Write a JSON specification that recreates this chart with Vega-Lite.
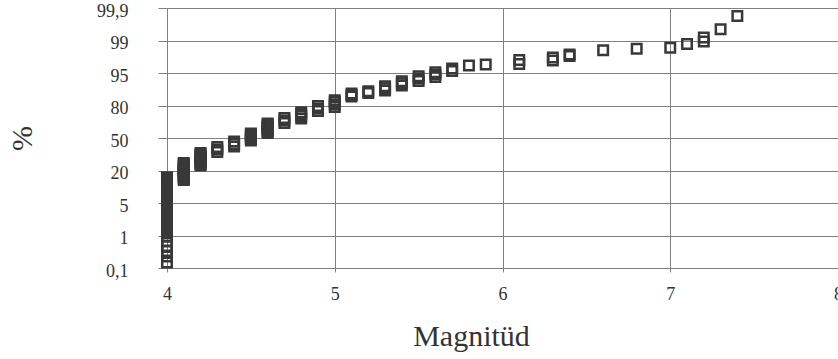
{
  "$schema": "https://vega.github.io/schema/vega-lite/v6.json",
  "autosize": {"type": "none"},
  "width": 671,
  "height": 260,
  "padding": {"left": 167, "top": 8, "right": 0, "bottom": 91},
  "background": "white",
  "config": {
    "view": {"stroke": null},
    "font": "Liberation Serif",
    "axis": {"labelFont": "Liberation Serif", "titleFont": "Liberation Serif", "labelColor": "#333", "titleColor": "#333", "titleFontWeight": "normal"}
  },
  "data": {
    "values": [
      {"m": 4.0, "p": 0.25}, {"m": 4.0, "p": 0.42}, {"m": 4.0, "p": 0.57}, {"m": 4.0, "p": 0.71}, {"m": 4.0, "p": 0.85}, {"m": 4.0, "p": 0.97},
      {"m": 4.0, "p": 1.25}, {"m": 4.0, "p": 1.4}, {"m": 4.0, "p": 1.55}, {"m": 4.0, "p": 1.7}, {"m": 4.0, "p": 1.86}, {"m": 4.0, "p": 2.02},
      {"m": 4.0, "p": 2.17}, {"m": 4.0, "p": 2.33}, {"m": 4.0, "p": 2.48}, {"m": 4.0, "p": 2.63}, {"m": 4.0, "p": 2.78}, {"m": 4.0, "p": 2.94},
      {"m": 4.0, "p": 3.09}, {"m": 4.0, "p": 3.25}, {"m": 4.0, "p": 3.4}, {"m": 4.0, "p": 3.56}, {"m": 4.0, "p": 3.71}, {"m": 4.0, "p": 3.87},
      {"m": 4.0, "p": 4.02}, {"m": 4.0, "p": 4.17}, {"m": 4.0, "p": 4.32}, {"m": 4.0, "p": 4.48}, {"m": 4.0, "p": 4.63}, {"m": 4.0, "p": 4.79},
      {"m": 4.0, "p": 4.94}, {"m": 4.0, "p": 5.3}, {"m": 4.0, "p": 5.92}, {"m": 4.0, "p": 6.5}, {"m": 4.0, "p": 7.08}, {"m": 4.0, "p": 7.65},
      {"m": 4.0, "p": 8.23}, {"m": 4.0, "p": 8.8}, {"m": 4.0, "p": 9.38}, {"m": 4.0, "p": 9.96}, {"m": 4.0, "p": 10.54}, {"m": 4.0, "p": 11.1},
      {"m": 4.0, "p": 11.69}, {"m": 4.0, "p": 12.27}, {"m": 4.0, "p": 12.85}, {"m": 4.0, "p": 13.4}, {"m": 4.0, "p": 14.0}, {"m": 4.0, "p": 14.6},
      {"m": 4.0, "p": 15.15}, {"m": 4.0, "p": 15.7}, {"m": 4.0, "p": 16.3}, {"m": 4.0, "p": 16.9},
      {"m": 4.1, "p": 15.6}, {"m": 4.1, "p": 16.2}, {"m": 4.1, "p": 16.77}, {"m": 4.1, "p": 17.35}, {"m": 4.1, "p": 17.92}, {"m": 4.1, "p": 18.5},
      {"m": 4.1, "p": 19.08}, {"m": 4.1, "p": 19.8}, {"m": 4.1, "p": 20.46}, {"m": 4.1, "p": 21.6}, {"m": 4.1, "p": 22.77}, {"m": 4.1, "p": 23.9},
      {"m": 4.1, "p": 25.08}, {"m": 4.1, "p": 26.0}, {"m": 4.1, "p": 26.92},
      {"m": 4.2, "p": 24.62}, {"m": 4.2, "p": 25.8}, {"m": 4.2, "p": 26.92}, {"m": 4.2, "p": 28.1}, {"m": 4.2, "p": 29.23}, {"m": 4.2, "p": 30.4},
      {"m": 4.2, "p": 31.54}, {"m": 4.2, "p": 32.7}, {"m": 4.2, "p": 33.85}, {"m": 4.2, "p": 35.0}, {"m": 4.2, "p": 36.15},
      {"m": 4.3, "p": 37.08}, {"m": 4.3, "p": 39.38}, {"m": 4.3, "p": 41.69},
      {"m": 4.4, "p": 42.15}, {"m": 4.4, "p": 44.46}, {"m": 4.4, "p": 46.77},
      {"m": 4.5, "p": 47.69}, {"m": 4.5, "p": 48.85}, {"m": 4.5, "p": 50.0}, {"m": 4.5, "p": 51.15}, {"m": 4.5, "p": 52.31}, {"m": 4.5, "p": 53.2}, {"m": 4.5, "p": 54.15},
      {"m": 4.6, "p": 54.62}, {"m": 4.6, "p": 55.8}, {"m": 4.6, "p": 56.92}, {"m": 4.6, "p": 58.1}, {"m": 4.6, "p": 59.23}, {"m": 4.6, "p": 60.4},
      {"m": 4.6, "p": 61.54}, {"m": 4.6, "p": 62.5}, {"m": 4.6, "p": 63.38},
      {"m": 4.7, "p": 63.85}, {"m": 4.7, "p": 66.15}, {"m": 4.7, "p": 68.46},
      {"m": 4.8, "p": 68.0}, {"m": 4.8, "p": 70.31}, {"m": 4.8, "p": 72.15}, {"m": 4.8, "p": 73.72},
      {"m": 4.9, "p": 74.92}, {"m": 4.9, "p": 77.23}, {"m": 4.9, "p": 79.54},
      {"m": 5.0, "p": 78.62}, {"m": 5.0, "p": 80.46}, {"m": 5.0, "p": 81.62}, {"m": 5.0, "p": 82.4},
      {"m": 5.1, "p": 84.15}, {"m": 5.1, "p": 84.85}, {"m": 5.1, "p": 85.54},
      {"m": 5.2, "p": 85.77}, {"m": 5.2, "p": 86.55},
      {"m": 5.3, "p": 86.92}, {"m": 5.3, "p": 87.94}, {"m": 5.3, "p": 88.86},
      {"m": 5.4, "p": 89.23}, {"m": 5.4, "p": 90.25}, {"m": 5.4, "p": 91.17},
      {"m": 5.5, "p": 91.31}, {"m": 5.5, "p": 92.41}, {"m": 5.5, "p": 93.48},
      {"m": 5.6, "p": 93.15}, {"m": 5.6, "p": 94.26}, {"m": 5.6, "p": 95.09},
      {"m": 5.7, "p": 95.25}, {"m": 5.7, "p": 95.55},
      {"m": 5.8, "p": 95.92},
      {"m": 5.9, "p": 96.05},
      {"m": 6.1, "p": 96.6}, {"m": 6.1, "p": 96.11},
      {"m": 6.3, "p": 96.91}, {"m": 6.3, "p": 96.54},
      {"m": 6.4, "p": 97.28}, {"m": 6.4, "p": 97.09},
      {"m": 6.6, "p": 97.79},
      {"m": 6.8, "p": 97.99},
      {"m": 7.0, "p": 98.1},
      {"m": 7.1, "p": 98.57},
      {"m": 7.2, "p": 99.08}, {"m": 7.2, "p": 98.88},
      {"m": 7.3, "p": 99.31},
      {"m": 7.4, "p": 99.68}
    ]
  },
  "mark": {"type": "point", "shape": "square", "filled": false, "size": 90, "strokeWidth": 2.5, "stroke": "#383838", "opacity": 1},
  "encoding": {
    "x": {
      "field": "m", "type": "quantitative",
      "scale": {"domain": [4, 8], "nice": false, "zero": false},
      "axis": {
        "values": [4, 5, 6, 7, 8], "format": "d", "labelFlush": false,
        "grid": true, "gridColor": "#808080", "gridWidth": 1,
        "domain": false, "ticks": true, "tickSize": 4, "tickColor": "#808080",
        "labelFontSize": 18, "labelPadding": 13,
        "title": "Magnitüd", "titleFontSize": 30, "titleX": 304, "titleY": 77,
        "titleAlign": "center", "titleBaseline": "alphabetic"
      }
    },
    "y": {
      "field": "p", "type": "quantitative",
      "scale": {"type": "linear", "domain": [0.1, 1, 5, 20, 50, 80, 95, 99, 99.9], "range": [260, 227.5, 195, 162.5, 130, 97.5, 65, 32.5, 0], "nice": false, "zero": false},
      "axis": {
        "values": [0.1, 1, 5, 20, 50, 80, 95, 99, 99.9],
        "labelExpr": "replace(toString(datum.value), '.', ',')",
        "grid": true, "gridColor": "#808080", "gridWidth": 1,
        "domain": false, "ticks": true, "tickSize": 9, "tickColor": "#808080",
        "labelFontSize": 18, "labelPadding": 30, "labelBaseline": "middle", "labelOffset": 3,
        "title": "%", "titleFontSize": 30, "titleX": -145, "titleY": 130,
        "titleAngle": 270, "titleAlign": "center", "titleBaseline": "middle"
      }
    }
  }
}
